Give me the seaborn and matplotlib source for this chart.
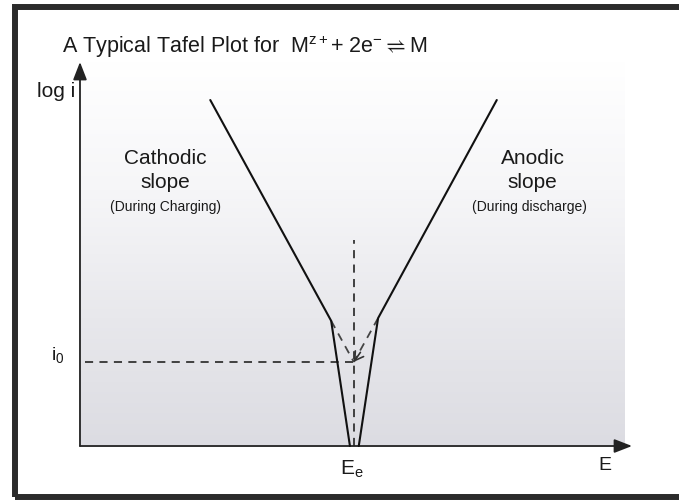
import numpy as np
import pandas as pd
import matplotlib
matplotlib.use("Agg")
import matplotlib.pyplot as plt
from matplotlib.patches import Rectangle
import seaborn as sns

# Tafel branches (E, log i) in arbitrary units
cathodic_E = [2.36, 4.55, 4.89]
cathodic_logi = [9.01, 3.26, 0.0]
anodic_E = [7.55, 5.40, 5.05]
anodic_logi = [9.01, 3.33, 0.0]

# equilibrium potential and exchange current
E_eq = 4.96
log_i0 = 2.19
E_eq_guide_top = 5.36
i0_guide_start = 0.09

# extrapolated linear regions meeting at (E_eq, log i0)
extrap_cath_E = [4.55, E_eq]
extrap_cath_logi = [3.26, log_i0]
extrap_anod_E = [5.40, E_eq]
extrap_anod_logi = [3.33, log_i0]

title_text = r"A Typical Tafel Plot for  M$^{z+}$+ 2e$^{-}$$\rightleftharpoons$M"

sns.set_theme(style="white")
plt.rcParams["font.family"] = ["Liberation Sans", "DejaVu Sans"]
plt.rcParams["mathtext.fontset"] = "custom"
plt.rcParams["mathtext.rm"] = "Liberation Sans"
plt.rcParams["mathtext.it"] = "Liberation Sans"
plt.rcParams["mathtext.bf"] = "Liberation Sans:bold"
plt.rcParams["mathtext.fallback"] = "stixsans"

fig = plt.figure(figsize=(6.79, 5.00), dpi=100)
ax = fig.add_axes([0, 0, 1, 1])
ax.set_xlim(-1.449, 10.851)
ax.set_ylim(-1.406, 11.615)
ax.axis("off")

# soft gray gradient behind the plot area
grad = np.linspace(0, 1, 256).reshape(-1, 1)
cmap = matplotlib.colors.LinearSegmentedColormap.from_list(
    "shade", ["#dcdce2", "#e8e8ec", "#f6f6f8", "#ffffff"])
ax.imshow(grad, cmap=cmap, origin="lower", aspect="auto",
          extent=[0, 9.87, 0, 10.0], zorder=0, interpolation="bicubic")

# axes with arrowheads
arrow_kw = dict(arrowstyle="-|>,head_length=0.9,head_width=0.35",
                color="#222222", lw=1.3, shrinkA=0, shrinkB=0)
ax.annotate("", xy=(0, 10.0), xytext=(0, 0), arrowprops=arrow_kw, zorder=3)
ax.annotate("", xy=(10.0, 0), xytext=(0, 0), arrowprops=arrow_kw, zorder=3)

# guide lines
dash = (0, (4.5, 3.5))
line_kw = dict(ax=ax, sort=False, estimator=None, lw=1.3, linestyle=dash,
               zorder=2)
sns.lineplot(x=[E_eq, E_eq], y=[0, E_eq_guide_top], color="#333333", **line_kw)
sns.lineplot(x=[i0_guide_start, E_eq], y=[log_i0, log_i0], color="#333333",
             **line_kw)
sns.lineplot(x=extrap_cath_E, y=extrap_cath_logi, color="#444444", **line_kw)
sns.lineplot(x=extrap_anod_E, y=extrap_anod_logi, color="#444444", **line_kw)
# small arrowhead where the extrapolations meet
ax.annotate("", xy=(E_eq, log_i0), xytext=(E_eq + 0.12, log_i0 + 0.25),
            arrowprops=dict(arrowstyle="->,head_length=0.5,head_width=0.3",
                            color="#333333", lw=1.2, shrinkA=0, shrinkB=0),
            zorder=2)

# Tafel branches
solid_kw = dict(ax=ax, sort=False, estimator=None, color="#111111", lw=1.5,
                zorder=4)
sns.lineplot(x=cathodic_E, y=cathodic_logi, **solid_kw)
sns.lineplot(x=anodic_E, y=anodic_logi, **solid_kw)

# labels
tc = "#1a1a1a"
ax.text(-0.33, 10.23, title_text, fontsize=15.5, color=tc, ha="left",
        va="baseline")
ax.text(-0.08, 9.09, "log i", fontsize=15, color=tc, ha="right",
        va="baseline")
ax.text(-0.53, 2.24, r"i$_\mathrm{0}$", fontsize=14, color=tc, ha="left",
        va="baseline")
ax.text(E_eq - 0.25, -0.75, r"E$_\mathrm{e}$", fontsize=15, color=tc,
        ha="left", va="baseline")
ax.text(9.5, -0.5, "E", fontsize=14, color=tc, ha="center", va="center")

ax.text(1.54, 7.5, "Cathodic", fontsize=15, color=tc, ha="center", va="center")
ax.text(1.54, 6.87, "slope", fontsize=15, color=tc, ha="center", va="center")
ax.text(1.54, 6.22, "(During Charging)", fontsize=10, color=tc, ha="center",
        va="center")
ax.text(8.2, 7.5, "Anodic", fontsize=15, color=tc, ha="center", va="center")
ax.text(8.2, 6.87, "slope", fontsize=15, color=tc, ha="center", va="center")
ax.text(8.15, 6.22, "(During discharge)", fontsize=10, color=tc, ha="center",
        va="center")

# dark frame around the panel
fig.patches.append(Rectangle((15 / 679, 3 / 500), 1.05, 490 / 500,
                             transform=fig.transFigure, fill=False,
                             edgecolor="#2b2b2b", lw=4.3, zorder=10))

fig.savefig("out.png", dpi=100)
